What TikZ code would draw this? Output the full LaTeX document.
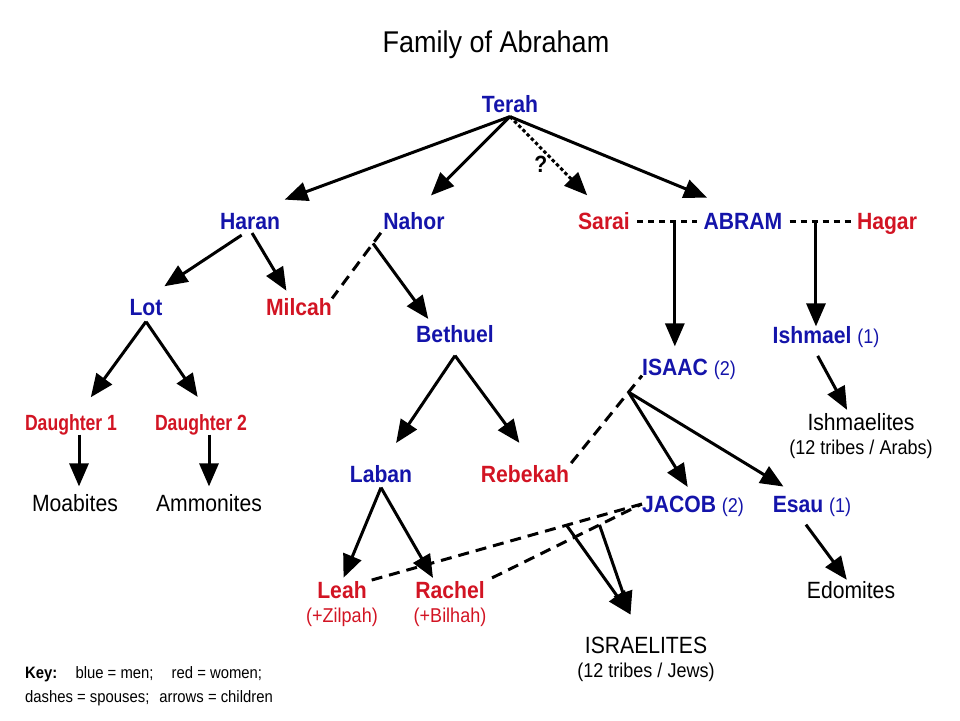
\documentclass[tikz,border=0pt]{standalone}
\usepackage{fontspec}
\setmainfont{Liberation Sans}[FakeStretch=0.9]
\usetikzlibrary{positioning, arrows.meta}

\definecolor{men}{RGB}{20,20,170}
\definecolor{women}{RGB}{210,20,35}

\newcommand{\whofont}{\fontsize{23.5}{28}\selectfont}
\newcommand{\smallfont}{\fontsize{20}{24}\selectfont}
\newcommand{\keyfont}{\fontsize{16.5}{24}\selectfont}

\tikzset{
    man/.style={font=\whofont\bfseries, text=men, inner sep=0pt, text height=16.8pt, text depth=0pt},
    woman/.style={man, text=women},
    girl/.style={woman, font=\fontsize{22}{26}\selectfont\bfseries\addfontfeatures{FakeStretch=0.8}},
    folk/.style={font=\whofont, inner sep=0pt, text height=16.8pt, text depth=0pt},
    note/.style={font=\smallfont, inner sep=0pt},
    child/.style={-{Triangle[length=23pt, width=19pt]}, line width=3pt},
    spouse/.style={line width=3pt, dash pattern=on 11pt off 7pt},
}

\begin{document}
\begin{tikzpicture}[x=1pt, y=-1pt]
    \useasboundingbox (0, 0) rectangle (960, 720);
    \node (title) [font=\fontsize{30}{36}\selectfont] at (496, 45) {Family of Abraham};

    \node (terah) [man] at (510, 104) {Terah};
    \node (haran) [man] at (250, 221) {Haran};
    \node (nahor) [man] at (414, 221) {Nahor};
    \node (sarai) [woman] at (604, 221) {Sarai};
    \node (abram) [man] at (743, 221) {ABRAM};
    \node (hagar) [woman] at (887, 221) {Hagar};
    \node (lot) [man] at (146, 307) {Lot};
    \node (milcah) [woman] at (299, 307) {Milcah};
    \node (bethuel) [man] at (455, 334) {Bethuel};
    \node (isaac) [man] at (689, 367) {ISAAC {\mdseries\smallfont (2)}};
    \node (ishmael) [man] at (826, 335) {Ishmael {\mdseries\smallfont (1)}};
    \node (daughter1) [girl] at (71, 422) {Daughter 1};
    \node (daughter2) [girl] at (201, 422) {Daughter 2};
    \node (ishmaelites) [folk] at (861, 422) {Ishmaelites};
    \node (arabs) [note, below=9.5pt of ishmaelites] {(12 tribes / Arabs)};
    \node (laban) [man] at (381, 474) {Laban};
    \node (rebekah) [woman] at (525, 474) {Rebekah};
    \node (jacob) [man] at (693, 504) {JACOB {\mdseries\smallfont (2)}};
    \node (esau) [man] at (812, 504) {Esau {\mdseries\smallfont (1)}};
    \node (moabites) [folk] at (75, 503) {Moabites};
    \node (ammonites) [folk] at (209, 503) {Ammonites};
    \node (leah) [woman] at (342, 590) {Leah};
    \node (zilpah) [note, text=women, below=9pt of leah] {(+Zilpah)};
    \node (rachel) [woman] at (450, 590) {Rachel};
    \node (bilhah) [note, text=women, below=9pt of rachel] {(+Bilhah)};
    \node (edomites) [folk] at (851, 590) {Edomites};
    \node (israelites) [folk] at (646, 645) {ISRAELITES};
    \node (jews) [note, below=9pt of israelites] {(12 tribes / Jews)};

    \node (key) [font=\keyfont, align=left, anchor=north west, inner sep=0pt] at (25, 666)
        {\textbf{Key:}\hspace{1.1em}blue = men;\hspace{1.1em}red = women;\\dashes = spouses;\hspace{0.6em}arrows = children};

    % Terah's children
    \draw [child, shorten >=37pt] ([yshift=-4pt]terah.south) -- (haran.north);
    \draw [child, shorten >=24pt] ([yshift=-4pt]terah.south) -- (nahor.north);
    \draw [child, dash pattern=on 3.5pt off 2.5pt, shorten >=24pt] ([yshift=-4pt]terah.south) -- (sarai.north)
        node [pos=.5, left=5pt, font=\whofont\bfseries] {?};
    \draw [child, shorten >=39pt] ([yshift=-4pt]terah.south) -- (abram.north);

    \draw [child, shorten <=10pt, shorten >=22pt] (haran.south) -- (lot.north);
    \draw [child, shorten <=4pt, shorten >=9pt] (haran.south) -- ([xshift=-8pt]milcah.north);

    \draw [spouse, shorten <=4pt] (nahor.south west) -- coordinate [pos=.2] (nm) (milcah.north east);
    \draw [child, shorten >=8pt] (nm) -- ([xshift=-22pt]bethuel.north);

    \draw [spouse, dash pattern=on 6pt off 5pt, shorten <=7pt, shorten >=6pt] (sarai.east) -- coordinate [pos=.61] (sa) (abram.west);
    \draw [child, shorten >=12pt] (sa) -- (sa |- isaac.north);
    \draw [spouse, dash pattern=on 6pt off 5pt, shorten <=7pt, shorten >=4pt] (abram.east) -- coordinate [pos=.45] (ah) (hagar.west);
    \draw [child] (ah) -- (ah |- ishmael.north);

    \draw [child, shorten >=20pt] ([yshift=-6pt]lot.south) -- ([xshift=8pt]daughter1.north);
    \draw [child, shorten >=20pt] ([yshift=-6pt]lot.south) -- ([xshift=8pt]daughter2.north);
    \draw [child, shorten <=4pt, shorten >=8pt] ([xshift=8pt]daughter1.south) -- ([xshift=4pt]moabites.north);
    \draw [child, shorten <=4pt, shorten >=8pt] ([xshift=8pt]daughter2.south) -- (ammonites.north);

    \draw [child, shorten >=27pt] ([yshift=-13pt]bethuel.south) -- (laban.north);
    \draw [child, shorten >=28pt] ([yshift=-13pt]bethuel.south) -- ([xshift=11pt]rebekah.north);

    \draw [spouse, shorten <=3pt] (rebekah.north east) -- coordinate [pos=.816] (ri) (isaac.south west);
    \draw [child, shorten >=10pt] (ri) -- (jacob.north);
    \draw [child, shorten >=17pt] (ri) -- ([xshift=-14pt]esau.north);

    \draw [child, shorten <=14pt, shorten >=4pt] ([xshift=-15pt]ishmael.south) -- ([xshift=-12pt]ishmaelites.north);
    \draw [child, shorten <=15pt, shorten >=2pt] ([xshift=-15pt]esau.south) -- ([xshift=-3pt]edomites.north);

    \draw [child, shorten >=4pt] ([yshift=-5pt]laban.south) -- (leah.north);
    \draw [child, shorten >=4pt] ([yshift=-5pt]laban.south) -- ([xshift=-15pt]rachel.north);

    \draw [spouse, shorten <=5pt] (leah.north east) -- coordinate [pos=.726] (lj) (jacob.west);
    \draw [spouse, shorten <=8pt] (rachel.north east) -- coordinate [pos=.73] (rj) (jacob.west);
    \draw [child, shorten >=27pt] (lj) -- (israelites.north);
    \draw [child, shorten >=23pt] (rj) -- ([xshift=-8pt]israelites.north);
\end{tikzpicture}
\end{document}
